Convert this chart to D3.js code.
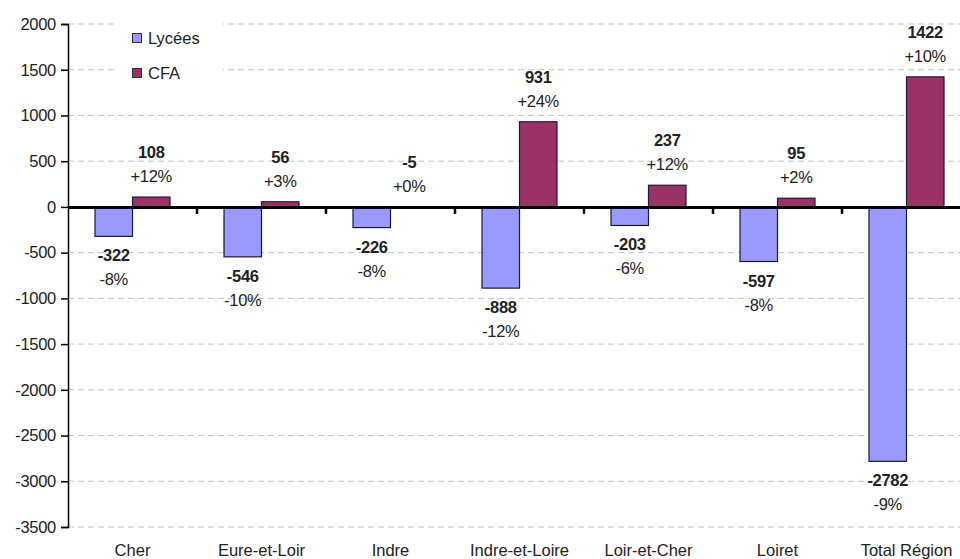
<!DOCTYPE html>
<html>
<head>
<meta charset="utf-8">
<script src="https://cdn.jsdelivr.net/npm/d3@7"></script>
<style>
  body { margin: 0; background: #fff; }
  svg { display: block; }
  text { font-family: "Liberation Sans", Arial, sans-serif; fill: #222; }
</style>
</head>
<body>
<div id="chart"></div>
<script>
// data
const categories = ["Cher", "Eure-et-Loir", "Indre", "Indre-et-Loire", "Loir-et-Cher", "Loiret", "Total Région"]
const series = ["Lycées", "CFA"]
const lyceesValues = [-322, -546, -226, -888, -203, -597, -2782]
const lyceesPct = ["-8%", "-10%", "-8%", "-12%", "-6%", "-8%", "-9%"]
const cfaValues = [108, 56, -5, 931, 237, 95, 1422]
const cfaPct = ["+12%", "+3%", "+0%", "+24%", "+12%", "+2%", "+10%"]
const yTicks = [2000, 1500, 1000, 500, 0, -500, -1000, -1500, -2000, -2500, -3000, -3500]

const colors = {"Lycées": "#9999ff", "CFA": "#993366"}

const w = 960, h = 559
const plotLeft = 68, plotTop = 24, plotBottom = 527
const band = 129
const barW = 37.5
const fs = "16.5px"

const svg = d3.select("#chart").append("svg")
    .attr("width", w)
    .attr("height", h)

const x = d3.scaleBand()
    .domain(categories)
    .range([plotLeft, plotLeft + band * categories.length])
    .padding(0)

const xs = d3.scaleBand()
    .domain(series)
    .range([x.bandwidth() / 2 - barW, x.bandwidth() / 2 + barW])

const y = d3.scaleLinear()
    .domain([-3500, 2000])
    .range([plotBottom, plotTop])

// gridlines
svg.append("g")
    .selectAll("line")
    .data(yTicks.filter(t => t !== 0))
    .join("line")
    .attr("x1", plotLeft)
    .attr("x2", w)
    .attr("y1", d => y(d))
    .attr("y2", d => y(d))
    .attr("stroke", "#bfc3dc")
    .attr("stroke-width", 1)
    .attr("stroke-dasharray", "6,4")

// legend background hides the grid
svg.append("rect")
    .attr("x", 115).attr("y", 14)
    .attr("width", 108).attr("height", 76)
    .attr("fill", "#fff")

const legend = svg.append("g")
series.forEach((s, i) => {
    legend.append("rect")
        .attr("x", 132.5).attr("y", 33.5 + i * 35)
        .attr("width", 9).attr("height", 9)
        .attr("fill", colors[s])
        .attr("stroke", "#333")
        .attr("stroke-width", 1)
    legend.append("text")
        .attr("x", 148).attr("y", 44 + i * 35)
        .style("font-size", fs)
        .text(s)
})

// y axis
const yAxis = svg.append("g")
    .attr("transform", `translate(${plotLeft},0)`)
    .call(d3.axisLeft(y).tickValues(yTicks).tickSize(7).tickPadding(5).tickFormat(d3.format("d")))
yAxis.select(".domain").attr("stroke", "#000").attr("stroke-width", 1.5)
yAxis.selectAll(".tick line").attr("stroke", "#000").attr("stroke-width", 1.5)
yAxis.selectAll("text")
    .style("font-size", fs)
    .style("font-family", "'Liberation Sans', Arial, sans-serif")
    .attr("fill", "#222")
    .attr("letter-spacing", "-0.3")
    .text(d => String(d))

// bars
const rows = categories.map((c, i) => ({
    cat: c,
    items: [
        {s: "Lycées", v: lyceesValues[i], p: lyceesPct[i]},
        {s: "CFA", v: cfaValues[i], p: cfaPct[i]}
    ]
}))

const groups = svg.append("g")
    .selectAll("g")
    .data(rows)
    .join("g")
    .attr("transform", d => `translate(${x(d.cat)},0)`)

groups.selectAll("rect")
    .data(d => d.items)
    .join("rect")
    .attr("x", d => xs(d.s))
    .attr("width", xs.bandwidth())
    .attr("y", d => y(Math.max(0, d.v)))
    .attr("height", d => Math.abs(y(d.v) - y(0)))
    .attr("fill", d => colors[d.s])
    .attr("stroke", "#1a1a40")
    .attr("stroke-width", 1.2)

// zero line with category ticks
const xAxis = svg.append("g")
    .attr("transform", `translate(0,${y(0)})`)
    .call(d3.axisBottom(x).tickSize(0).tickFormat(""))
xAxis.select(".domain").attr("stroke", "#000").attr("stroke-width", 3)
svg.append("g")
    .selectAll("line")
    .data(categories.slice(1))
    .join("line")
    .attr("x1", d => x(d)).attr("x2", d => x(d))
    .attr("y1", y(0)).attr("y2", y(0) + 7)
    .attr("stroke", "#000")
    .attr("stroke-width", 2.5)

// value labels
groups.each(function(d) {
    const g = d3.select(this)
    d.items.forEach(it => {
        const cx = xs(it.s) + xs.bandwidth() / 2
        let y1, y2
        if (it.s === "CFA") {
            const t = y(Math.max(0, it.v))
            y1 = t - 39; y2 = t - 15
        } else {
            const b = y(Math.min(0, it.v))
            y1 = b + 25; y2 = b + 49
        }
        g.append("text")
            .attr("x", cx).attr("y", y1)
            .attr("text-anchor", "middle")
            .style("font-size", fs)
            .style("font-weight", "bold")
            .attr("fill", "#333")
            .attr("letter-spacing", "-0.3")
            .text(it.v)
        g.append("text")
            .attr("x", cx).attr("y", y2)
            .attr("text-anchor", "middle")
            .style("font-size", fs)
            .attr("letter-spacing", "-0.3")
            .text(it.p)
    })
})

// category labels
svg.append("g")
    .selectAll("text")
    .data(categories)
    .join("text")
    .attr("x", d => x(d) + x.bandwidth() / 2)
    .attr("y", 556)
    .attr("text-anchor", "middle")
    .style("font-size", fs)
    .text(d => d)
</script>
</body>
</html>
